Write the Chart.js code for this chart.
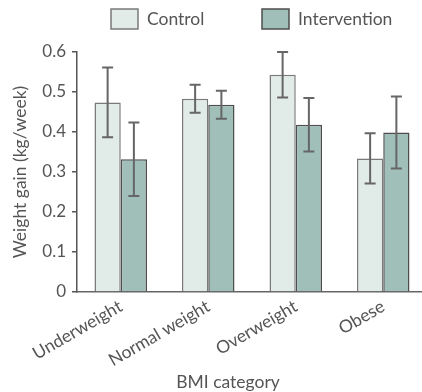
<!DOCTYPE html>
<html>
<head>
<meta charset="utf-8">
<script src="https://cdn.jsdelivr.net/npm/chart.js@4.4.0/dist/chart.umd.min.js"></script>
<style>
  html, body { margin: 0; padding: 0; background: #fff; overflow: hidden; }
  #wrap { width: 427px; height: 392px; }
</style>
</head>
<body>
<div id="wrap"><canvas id="chart"></canvas></div>
<script>
var categories = ['Underweight', 'Normal weight', 'Overweight', 'Obese'];
var controlMeans = [0.474, 0.483, 0.543, 0.334];
var controlErrors = [0.087, 0.035, 0.057, 0.063];
var interventionMeans = [0.332, 0.468, 0.418, 0.399];
var interventionErrors = [0.092, 0.035, 0.067, 0.090];
var yTicks = [0, 0.1, 0.2, 0.3, 0.4, 0.5, 0.6];

var textColor = '#555555';
var fontFamily = 'Lato, "Open Sans", sans-serif';

// error bars + legend + x title drawn on top
var extras = {
    id: 'extras',
    afterDatasetsDraw: function(chart) {
        var ctx = chart.ctx;
        var yScale = chart.scales.y;
        ctx.save();
        ctx.strokeStyle = '#666666';
        ctx.lineWidth = 2;
        chart.data.datasets.forEach(function(ds, i) {
            var meta = chart.getDatasetMeta(i);
            meta.data.forEach(function(bar, j) {
                var top = yScale.getPixelForValue(ds.data[j] + ds.errors[j]);
                var bot = yScale.getPixelForValue(ds.data[j] - ds.errors[j]);
                ctx.beginPath();
                ctx.moveTo(bar.x, top); ctx.lineTo(bar.x, bot);
                ctx.moveTo(bar.x - 5.5, top); ctx.lineTo(bar.x + 5.5, top);
                ctx.moveTo(bar.x - 5.5, bot); ctx.lineTo(bar.x + 5.5, bot);
                ctx.stroke();
            });
        });
        ctx.restore();
    },
    afterDraw: function(chart) {
        var ctx = chart.ctx;
        ctx.save();
        ctx.font = '17.5px ' + fontFamily;
        ctx.textBaseline = 'middle';
        var boxes = [111, 262];
        chart.data.datasets.forEach(function(ds, i) {
            var x = boxes[i];
            ctx.fillStyle = ds.backgroundColor;
            ctx.strokeStyle = ds.borderColor;
            ctx.lineWidth = 1.5;
            ctx.fillRect(x, 9, 27, 20);
            ctx.strokeRect(x, 9, 27, 20);
            ctx.fillStyle = textColor;
            ctx.fillText(ds.label, x + 36, 19);
        });
        ctx.textAlign = 'center';
        ctx.fillText('BMI category', 228, 382);
        ctx.restore();
    }
};

new Chart(document.getElementById('chart'), {
    type: 'bar',
    data: {
        labels: categories,
        datasets: [{
            label: 'Control',
            data: controlMeans,
            errors: controlErrors,
            backgroundColor: '#e1ebe8',
            borderColor: '#7a7a7a',
            borderWidth: 1.5
        }, {
            label: 'Intervention',
            data: interventionMeans,
            errors: interventionErrors,
            backgroundColor: '#9fbfb8',
            borderColor: '#4d4d4d',
            borderWidth: 1.5
        }]
    },
    options: {
        responsive: true,
        maintainAspectRatio: false,
        animation: false,
        layout: { padding: { top: 52, right: 0, bottom: 0, left: 0 } },
        datasets: { bar: { barPercentage: 1, categoryPercentage: 0.6 } },
        plugins: { legend: { display: false }, tooltip: { enabled: false } },
        scales: {
            x: {
                grid: { display: false, drawTicks: false },
                border: { color: '#666666', width: 1.5 },
                ticks: {
                    color: textColor,
                    font: { family: fontFamily, size: 17.5 },
                    minRotation: 30,
                    maxRotation: 30,
                    padding: 4
                },
                afterFit: function(s) { s.height = 100; }
            },
            y: {
                min: 0,
                max: 0.6,
                afterBuildTicks: function(s) {
                    s.ticks = yTicks.map(function(v) { return { value: v }; });
                },
                grid: { drawOnChartArea: false, drawTicks: true, tickLength: 5, color: '#555555', lineWidth: 1.5 },
                border: { color: '#555555', width: 1.5 },
                ticks: {
                    color: textColor,
                    font: { family: fontFamily, size: 17 },
                    padding: 6,
                    callback: function(v) { return v === 0 ? '0' : v.toFixed(1); }
                },
                title: {
                    display: true,
                    text: 'Weight gain (kg/week)',
                    color: textColor,
                    font: { family: fontFamily, size: 17.5 },
                    padding: { top: 10, bottom: 0 }
                },
                afterFit: function(s) { s.width = 77; }
            }
        }
    },
    plugins: [extras]
});
</script>
</body>
</html>
